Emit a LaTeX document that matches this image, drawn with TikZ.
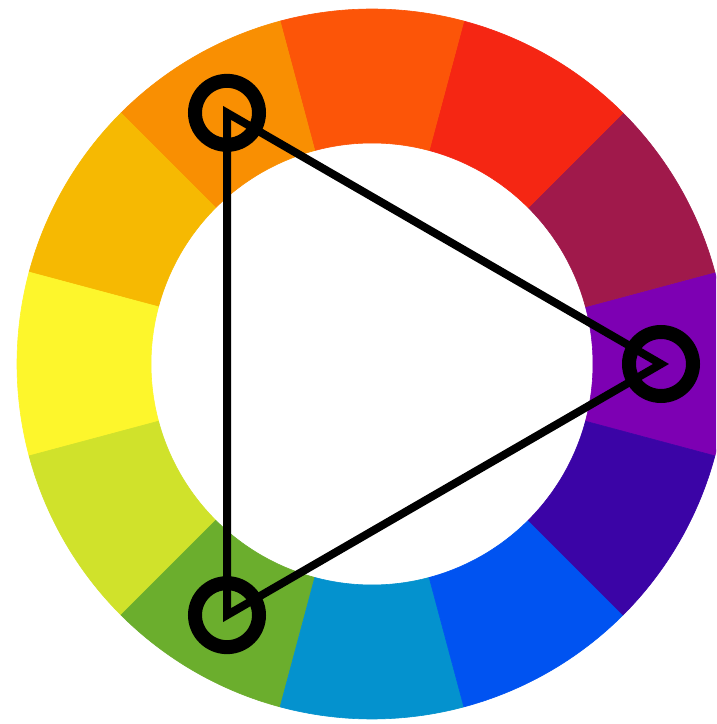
\documentclass[tikz,border=0pt]{standalone}
\definecolor{c0}{HTML}{7D00B3}
\definecolor{c30}{HTML}{A0194B}
\definecolor{c60}{HTML}{F52613}
\definecolor{c90}{HTML}{FC5508}
\definecolor{c120}{HTML}{F98F02}
\definecolor{c150}{HTML}{F6B902}
\definecolor{c180}{HTML}{FDF62C}
\definecolor{c210}{HTML}{D0E22B}
\definecolor{c240}{HTML}{6BAE2D}
\definecolor{c270}{HTML}{0492CE}
\definecolor{c300}{HTML}{0053F1}
\definecolor{c330}{HTML}{3B04A6}
\tikzset{
  vert/.style={circle, draw=black, line width=14pt, minimum size=64pt, inner sep=0pt},
  tri/.style={draw=black, line width=8pt, line join=miter}
}
\begin{document}
\begin{tikzpicture}[x=1pt,y=1pt]
\useasboundingbox (0,0) rectangle (716,724);
\fill[white] (0,0) rectangle (716,724);
\clip (0,0) rectangle (716,724);
\begin{scope}[shift={(372,360)}]
  \foreach \a in {0,30,...,330} {
    \fill[c\a, draw=c\a, line width=0.6pt, line join=round]
      (\a-15:221) -- (\a-15:355)
      arc[start angle=\a-15, end angle=\a+15, radius=355]
      -- (\a+15:221)
      arc[start angle=\a+15, end angle=\a-15, radius=221] -- cycle;
  }
  \coordinate (p1) at (120:290);
  \coordinate (p2) at (0:289);
  \coordinate (p3) at (240:290);
  \node[vert] (v1) at (p1) {};
  \node[vert] (v2) at (p2) {};
  \node[vert] (v3) at (p3) {};
  \draw[tri] (v1.center) -- (v2.center) -- (v3.center) -- cycle;
\end{scope}
\end{tikzpicture}
\end{document}
